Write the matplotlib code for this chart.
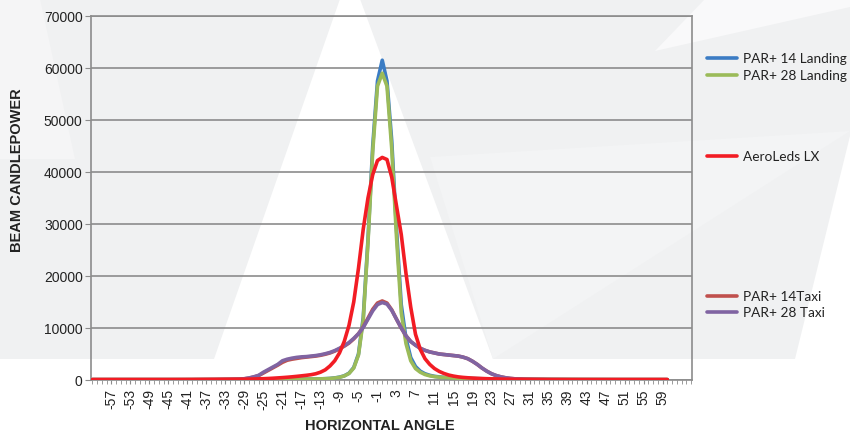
import numpy as np
import matplotlib.pyplot as plt
from matplotlib.patches import Polygon
from matplotlib.lines import Line2D
from matplotlib.ticker import MultipleLocator

# horizontal angle (deg): sparse tails, 1 deg steps in the middle
angles = [-61, -55, -50, -45, -40, -35, -32] + list(range(-30, 31)) + [32, 35, 40, 45, 50, 55, 60]

par14_landing = [80, 80, 80, 80, 80, 90, 100,
                 100, 100, 110, 110, 120, 120, 130, 130, 140, 140,
                 150, 150, 160, 170, 180, 190, 200, 220, 250, 300,
                 400, 550, 800, 1300, 2400, 5000, 12000, 27000, 45000, 57500,
                 61500,
                 57500, 46000, 29000, 14500, 8000, 4300, 2600, 1700, 1200, 900,
                 700, 600, 500, 450, 400, 350, 320, 300, 280, 260,
                 240, 220, 200, 190, 180, 170, 160, 150, 140, 130,
                 120, 110, 100, 90, 80, 80, 80]

par28_landing = [80, 80, 80, 80, 80, 90, 100,
                 100, 100, 110, 110, 120, 120, 130, 130, 140, 140,
                 150, 150, 160, 170, 180, 190, 200, 220, 250, 300,
                 380, 520, 780, 1250, 2300, 4800, 11500, 26500, 44000, 56500,
                 59000,
                 56500, 44500, 27500, 13000, 7000, 3700, 2200, 1500, 1050, 800,
                 650, 550, 480, 420, 380, 340, 310, 290, 270, 250,
                 230, 210, 200, 190, 180, 170, 160, 150, 140, 130,
                 120, 110, 100, 90, 80, 80, 80]

aeroleds_lx = [100, 100, 100, 100, 110, 130, 140,
               150, 160, 180, 200, 220, 250, 290, 340, 400, 460,
               530, 610, 700, 800, 900, 1020, 1200, 1500, 1950, 2700,
               3700, 5200, 7400, 10500, 15000, 21500, 29000, 35000, 39500, 42200,
               42800,
               42400, 39000, 33500, 28000, 20500, 14000, 8800, 5900, 4100, 3000,
               2200, 1650, 1250, 950, 750, 600, 500, 430, 370, 320,
               280, 250, 220, 200, 180, 160, 150, 140, 130, 120,
               110, 100, 100, 100, 100, 100, 100]

par14_taxi = [30, 30, 30, 30, 40, 60, 100,
              140, 230, 370, 580, 850, 1350, 1850, 2350, 2850, 3400,
              3800, 4000, 4150, 4300, 4400, 4500, 4600, 4750, 4950, 5200,
              5550, 6000, 6500, 7100, 7900, 8900, 10200, 11900, 13600, 14800,
              15200,
              14800, 13500, 11700, 10000, 8500, 7400, 6700, 6100, 5700, 5400,
              5200, 5000, 4900, 4800, 4700, 4600, 4400, 4100, 3600, 3000,
              2300, 1700, 1200, 850, 600, 420, 300, 220, 160, 120,
              90, 60, 40, 30, 30, 30, 30]

par28_taxi = [30, 30, 30, 30, 40, 60, 100,
              150, 250, 400, 620, 900, 1500, 2000, 2500, 3000, 3700,
              4000, 4200, 4350, 4450, 4500, 4600, 4700, 4850, 5050, 5300,
              5650, 6100, 6600, 7200, 8000, 8900, 10100, 11700, 13300, 14500,
              14900,
              14600, 13400, 11700, 10000, 8500, 7400, 6700, 6100, 5700, 5400,
              5200, 5000, 4900, 4800, 4700, 4600, 4400, 4100, 3600, 3000,
              2300, 1700, 1200, 850, 600, 420, 300, 220, 160, 120,
              90, 60, 40, 30, 30, 30, 30]

series_names = ['PAR+ 14 Landing', 'PAR+ 28 Landing', 'PAR+ 14Taxi', 'PAR+ 28 Taxi', 'AeroLeds LX']
series_values = [par14_landing, par28_landing, par14_taxi, par28_taxi, aeroleds_lx]
series_colors = ['#3B7CC4', '#9BBB59', '#C0504D', '#8064A2', '#F21C24']

x_labels = list(range(-57, 60, 4))
y_ticks = list(range(0, 70001, 10000))

W, H = 850, 435
fig = plt.figure(figsize=(W / 100, H / 100), dpi=100)
fig.patch.set_facecolor('white')

# background decoration (light gray shapes, white light beam)
bg = fig.add_axes([0, 0, 1, 1], zorder=0)
bg.set_xlim(0, W)
bg.set_ylim(H, 0)
bg.axis('off')
g = '#F0F1F2'
bg.add_patch(Polygon([(0, 0), (340, 0), (214, 360), (0, 360)], color=g, lw=0))
bg.add_patch(Polygon([(0, 0), (40, 0), (75, 160), (0, 160)], color='#F5F5F6', lw=0))
bg.add_patch(Polygon([(360, 0), (850, 0), (850, 137), (795, 360), (493, 360)], color=g, lw=0))
bg.add_patch(Polygon([(430, 158), (850, 132), (493, 360)], color='#F3F4F5', lw=0))
bg.add_patch(Polygon([(655, 52), (705, 0), (850, 0), (850, 8)], color='#F9F9FA', lw=0))

ax = fig.add_axes([91 / W, 1 - 381 / H, (692 - 91) / W, (381 - 17) / H], zorder=1)
ax.set_facecolor('none')

for vals, col in zip(series_values, series_colors):
    ax.plot(angles, vals, color=col, lw=2.6, solid_capstyle='round', zorder=3)

ax.set_xlim(-61.3, 65.2)
ax.set_ylim(0, 70000)
ax.set_yticks(y_ticks)
ax.set_yticklabels([str(v) for v in y_ticks])
ax.set_xticks(x_labels)
ax.set_xticklabels([str(v) for v in x_labels], rotation=90)
ax.xaxis.set_minor_locator(MultipleLocator(1))

gray = '#8C8C8C'
ax.yaxis.grid(True, color=gray, lw=1.2, zorder=1)
ax.set_axisbelow(True)
for s in ax.spines.values():
    s.set_color(gray)
    s.set_linewidth(1.2)
ax.tick_params(axis='y', length=4, color=gray, labelsize=10, pad=2,
               labelcolor='#222222', labelfontfamily='Liberation Sans')
ax.tick_params(axis='x', which='both', length=3, color=gray, labelsize=10, pad=3,
               labelcolor='#222222', labelfontfamily='Liberation Sans')

fig.text(17 / W, 1 - 170 / H, 'BEAM CANDLEPOWER', rotation=90, ha='center', va='center',
         fontsize=10.5, fontweight='bold', family='Liberation Sans', color='#222222')
fig.text(380 / W, 1 - 426 / H, 'HORIZONTAL ANGLE', ha='center', va='center',
         fontsize=10.5, fontweight='bold', family='Liberation Sans', color='#222222')

# legend entries placed beside each curve's peak level
legend_y = {'PAR+ 14 Landing': 59, 'PAR+ 28 Landing': 76, 'AeroLeds LX': 157,
            'PAR+ 14Taxi': 297, 'PAR+ 28 Taxi': 313}
for name, col in zip(series_names, series_colors):
    yy = 1 - legend_y[name] / H
    fig.add_artist(Line2D([707 / W, 737 / W], [yy, yy], color=col, lw=2.6,
                          solid_capstyle='round'))
    fig.text(743 / W, yy, name, ha='left', va='center', fontsize=9.8,
             family='Lato', color='#222222')

fig.savefig('out.png', dpi=100)
